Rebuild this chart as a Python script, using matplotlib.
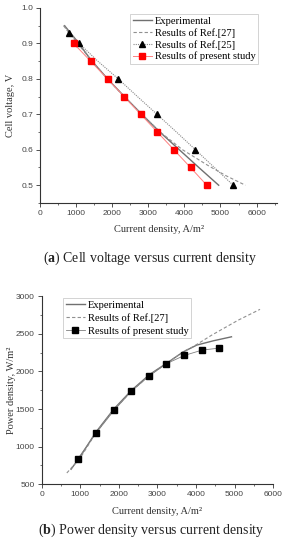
import matplotlib
matplotlib.use("Agg")
import matplotlib.pyplot as plt
from matplotlib.ticker import MultipleLocator

plt.rcParams["mathtext.fontset"] = "custom"
plt.rcParams["mathtext.rm"] = "Liberation Serif"
plt.rcParams["mathtext.bf"] = "Liberation Serif:bold"

# ---------- data: (a) cell voltage vs current density ----------
exp_i = [680, 1000, 1400, 1870, 2340, 2820, 3320, 3860, 4400, 4950]
exp_v = [0.95, 0.91, 0.855, 0.80, 0.75, 0.70, 0.65, 0.60, 0.55, 0.50]

r27_i = [650, 1000, 1400, 1870, 2330, 2820, 3330, 3950, 4650, 5150, 5690]
r27_v = [0.95, 0.905, 0.855, 0.80, 0.75, 0.70, 0.65, 0.60, 0.556, 0.527, 0.50]

r25_line_i = [680, 790, 1083, 1600, 2167, 2700, 3241, 3780, 4306, 4830, 5352]
r25_line_v = [0.95, 0.93, 0.90, 0.85, 0.80, 0.75, 0.70, 0.65, 0.60, 0.55, 0.50]
r25_i = [790, 1083, 2167, 3241, 4306, 5352]
r25_v = [0.93, 0.90, 0.80, 0.70, 0.60, 0.50]

ps_i = [930, 1400, 1870, 2330, 2790, 3250, 3710, 4170, 4620]
ps_v = [0.90, 0.85, 0.80, 0.75, 0.70, 0.65, 0.60, 0.55, 0.50]

# ---------- data: (b) power density vs current density ----------
pexp_i = [760, 1000, 1400, 1870, 2330, 2800, 3300, 3670, 4020, 4450, 4920]
pexp_p = [700, 870, 1190, 1500, 1750, 1960, 2130, 2260, 2350, 2407, 2460]

pr27_i = [650, 1000, 1400, 1870, 2330, 2800, 3300, 3700, 3930, 4400, 5090, 5660]
pr27_p = [650, 850, 1180, 1490, 1740, 1950, 2130, 2270, 2330, 2480, 2680, 2825]

pps_i = [933, 1416, 1874, 2323, 2781, 3230, 3696, 4154, 4603]
pps_p = [836, 1186, 1482, 1735, 1938, 2102, 2212, 2283, 2310]

fig = plt.figure(figsize=(2.86, 5.5), dpi=100)

serif = ["Liberation Serif", "DejaVu Serif"]
sans = ["Liberation Sans", "DejaVu Sans"]

def style_axes(ax):
    for s in ["top", "right"]:
        ax.spines[s].set_visible(False)
    for s in ["left", "bottom"]:
        ax.spines[s].set_linewidth(0.8)
        ax.spines[s].set_color("#333333")
    ax.tick_params(which="major", direction="out", length=3, width=0.6,
                   labelsize=6, colors="#333333", pad=2)
    ax.tick_params(which="minor", direction="out", length=1.6, width=0.5,
                   colors="#333333")
    for lab in ax.get_xticklabels() + ax.get_yticklabels():
        lab.set_family(sans)
        lab.set_color("#444444")

# ---- top axes ----
ax1 = fig.add_axes([0.14, 0.631, 0.829, 0.3545])
ax1.plot(exp_i, exp_v, color="#707070", lw=1.0, label="Experimental")
ax1.plot(r27_i, r27_v, color="#909090", lw=0.8, ls=(0, (3, 2)), label="Results of Ref.[27]")
ax1.plot(r25_line_i, r25_line_v, color="#8a8a8a", lw=0.8, ls=(0, (1, 1)))
ax1.plot(r25_i, r25_v, ls="none", marker="^", ms=4.2, color="black")
ax1.plot([], [], color="#8a8a8a", lw=0.8, ls=(0, (1, 1)), marker="^", ms=4.2,
         mfc="black", mec="black", label="Results of Ref.[25]")
ax1.plot(ps_i, ps_v, color="#ff8080", lw=0.7, marker="s", ms=3.7, mfc="#ff0000",
         mec="#ff0000", label="Results of present study")
ax1.set_xlim(0, 6570)
ax1.set_ylim(0.45, 1.0)
ax1.xaxis.set_major_locator(MultipleLocator(1000))
ax1.xaxis.set_minor_locator(MultipleLocator(500))
ax1.yaxis.set_minor_locator(MultipleLocator(0.05))
ax1.set_yticks([0.5, 0.6, 0.7, 0.8, 0.9, 1.0])
ax1.set_yticklabels(["0.5", "0.6", "0.7", "0.8", "0.9", "1.0"])
style_axes(ax1)
ax1.set_xlabel("Current density, A/m²", family=serif, fontsize=7.5, color="#333333")
ax1.xaxis.set_label_coords(0.5, -0.113)
ax1.set_ylabel("Cell voltage, V", family=serif, fontsize=7.5, color="#333333")
ax1.yaxis.set_label_coords(-0.105, 0.5)
leg1 = ax1.legend(loc="upper left", bbox_to_anchor=(0.38, 0.969), frameon=True,
                  fancybox=False, edgecolor="#cccccc", framealpha=1,
                  prop={"family": serif, "size": 7.6}, handlelength=1.8,
                  handletextpad=0.3, labelspacing=0.2, borderpad=0.25,
                  borderaxespad=0)
leg1.get_frame().set_linewidth(0.6)

# ---- bottom axes ----
ax2 = fig.add_axes([0.146, 0.1195, 0.809, 0.342])
ax2.plot(pexp_i, pexp_p, color="#707070", lw=1.0, label="Experimental")
ax2.plot(pr27_i, pr27_p, color="#909090", lw=0.8, ls=(0, (3, 2)), label="Results of Ref.[27]")
ax2.plot(pps_i, pps_p, color="#808080", lw=0.6, marker="s", ms=3.7, mfc="black",
         mec="black", label="Results of present study")
ax2.set_xlim(0, 6000)
ax2.set_ylim(500, 3000)
ax2.xaxis.set_major_locator(MultipleLocator(1000))
ax2.xaxis.set_minor_locator(MultipleLocator(500))
ax2.yaxis.set_major_locator(MultipleLocator(500))
ax2.yaxis.set_minor_locator(MultipleLocator(250))
style_axes(ax2)
ax2.set_xlabel("Current density, A/m²", family=serif, fontsize=7.5, color="#333333")
ax2.xaxis.set_label_coords(0.5, -0.12)
ax2.set_ylabel("Power density, W/m²", family=serif, fontsize=7.5, color="#333333")
ax2.yaxis.set_label_coords(-0.111, 0.5)
leg2 = ax2.legend(loc="upper left", bbox_to_anchor=(0.092, 0.99), frameon=True,
                  fancybox=False, edgecolor="#cccccc", framealpha=1,
                  prop={"family": serif, "size": 7.6}, handlelength=1.8,
                  handletextpad=0.3, labelspacing=0.3, borderpad=0.25,
                  borderaxespad=0)
leg2.get_frame().set_linewidth(0.6)

# ---- captions ----
fig.text(0.526, 1 - 258 / 550, r"($\mathbf{a}$) Cell voltage versus current density",
         ha="center", va="center", family=serif, fontsize=10, color="#222222")
fig.text(0.528, 1 - 530 / 550, r"($\mathbf{b}$) Power density versus current density",
         ha="center", va="center", family=serif, fontsize=10, color="#222222")

fig.savefig("out.png", dpi=100)
